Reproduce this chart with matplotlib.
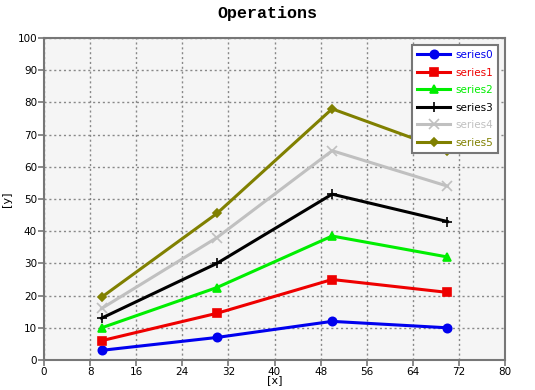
import numpy as np
import matplotlib.pyplot as plt

x = [10, 30, 50, 70]
names = ["series0", "series1", "series2", "series3", "series4", "series5"]
series0 = [3, 7, 12, 10]
series1 = [6, 14.5, 25, 21]
series2 = [10, 22.5, 38.5, 32]
series3 = [13, 30, 51.5, 43]
series4 = [16, 38, 65, 54]
series5 = [19.5, 45.5, 78, 65]
values = [series0, series1, series2, series3, series4, series5]

colors = ["#0000ee", "#ee0000", "#00ee00", "#000000", "#c0c0c0", "#808000"]
markers = ["o", "s", "^", "+", "x", "D"]
msizes = [6, 6, 6, 7, 7, 4.5]

fig = plt.figure(figsize=(5.35, 3.9), dpi=100)
ax = fig.add_axes([44 / 535, 1 - 360 / 390, 461 / 535, 322 / 390])
ax.set_facecolor("#f5f5f5")

for name, vals, c, m, ms in zip(names, values, colors, markers, msizes):
    ax.plot(x, vals, color=c, marker=m, markersize=ms, linewidth=2.2,
            markeredgewidth=1.2, label=name)

ax.set_xlim(0, 80)
ax.set_ylim(0, 100)
ax.set_xticks(np.arange(0, 81, 8))
ax.set_yticks(np.arange(0, 101, 10))
ax.grid(True, color="#888888", linestyle=(0, (1.5, 2)), linewidth=1)
ax.set_axisbelow(True)
for s in ax.spines.values():
    s.set_color("#777777")
    s.set_linewidth(1.5)
ax.tick_params(direction="out", length=4, width=1.2, color="#777777",
               labelsize=7.5, pad=1)

ax.set_xlabel("[x]", fontsize=8, labelpad=-1)
ax.set_ylabel("[y]", fontsize=8, labelpad=4)
fig.suptitle("Operations", fontsize=12, fontweight="bold",
             family="Liberation Mono", y=0.985)

leg = ax.legend(loc="upper right", fontsize=7.5, fancybox=False,
                framealpha=1, edgecolor="#777777", borderpad=0.5,
                handlelength=3.2, labelspacing=0.72, handletextpad=0.5,
                bbox_to_anchor=(0.997, 0.995))
leg.get_frame().set_linewidth(1.5)
for t, c in zip(leg.get_texts(), colors):
    t.set_color(c)

fig.savefig("out.png", dpi=100)
